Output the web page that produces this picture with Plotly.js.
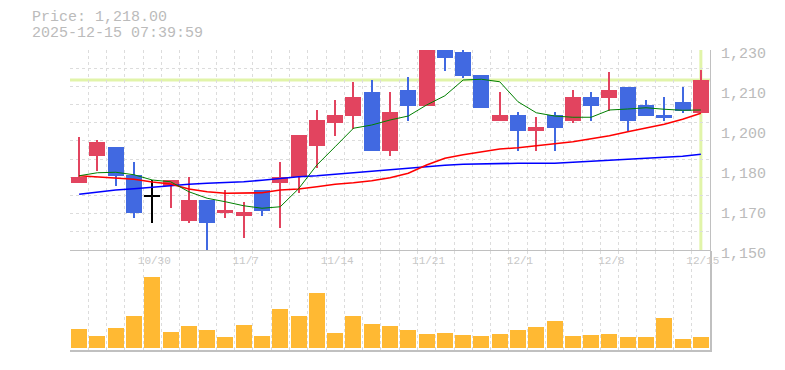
<!DOCTYPE html>
<html>
<head>
<meta charset="utf-8">
<script src="https://cdn.plot.ly/plotly-3.0.1.min.js"></script>
<style>html,body{margin:0;padding:0;background:#fff;}#chart{width:785px;height:370px;}</style>
</head>
<body>
<div id="chart"></div>
<script>
// ---- data ----
const dates = ['10/24','10/27','10/28','10/29','10/30','10/31','11/4','11/5','11/6','11/7',
  '11/10','11/11','11/12','11/13','11/14','11/17','11/18','11/19','11/20','11/21',
  '11/25','11/26','11/27','11/28','12/1','12/2','12/3','12/4','12/5','12/8',
  '12/9','12/10','12/11','12/12','12/15'];
const labelDates = ['10/30','11/7','11/14','11/21','12/1','12/8','12/15'];

const open  = [1176.9,1187.7,1191.2,1180.0,1171.1,1175.7,1161.6,1170.0,1164.8,1163.7,
  1174.0,1176.9,1179.1,1191.6,1200.9,1203.6,1213.2,1189.7,1214.0,1207.7,
  1230.0,1229.2,1220.1,1201.7,1204.0,1197.7,1204.0,1201.7,1211.2,1210.9,
  1215.2,1208.0,1204.0,1209.2,1204.9];
const high  = [1195.3,1194.0,1191.2,1185.2,1178.0,1178.0,1179.3,1170.0,1174.0,1169.2,
  1174.0,1185.2,1196.0,1206.0,1210.0,1217.3,1218.0,1213.2,1219.3,1232.0,
  1232.0,1231.0,1220.1,1213.2,1205.2,1203.2,1205.2,1214.0,1213.2,1221.2,
  1215.2,1210.0,1211.2,1215.2,1222.0];
const low   = [1176.9,1181.7,1175.7,1162.9,1160.9,1166.9,1160.9,1149.0,1162.9,1154.9,
  1163.7,1158.9,1172.9,1182.9,1195.6,1198.3,1189.7,1187.6,1201.7,1207.7,
  1221.7,1218.9,1206.9,1201.7,1189.7,1189.7,1189.7,1200.9,1201.7,1205.7,
  1197.7,1203.7,1201.7,1204.9,1204.9];
const close = [1179.3,1193.2,1179.7,1164.9,1171.1,1178.0,1170.0,1160.9,1166.0,1165.2,
  1165.7,1179.2,1196.0,1202.0,1204.0,1211.2,1189.7,1205.2,1207.7,1231.0,
  1226.9,1219.7,1206.9,1204.0,1197.7,1199.2,1198.9,1211.2,1207.7,1214.0,
  1201.7,1203.7,1202.9,1205.7,1218.0];

const ma5  = [1179.7,1180.9,1181.1,1180.1,1178.0,1177.3,1173.3,1170.7,1169.3,1167.7,
  1166.7,1167.3,1174.5,1184.0,1191.3,1198.7,1200.0,1202.0,1203.6,1208.0,
  1211.7,1218.0,1218.3,1217.3,1209.3,1204.9,1203.6,1203.1,1203.1,1206.0,
  1206.4,1206.9,1206.3,1205.9,1206.0];
const ma25 = [1179.7,1179.3,1178.9,1178.3,1177.2,1176.4,1174.4,1173.3,1172.7,1172.7,
  1172.9,1174.0,1174.4,1175.3,1176.3,1176.9,1177.7,1178.9,1180.7,1184.0,
  1186.7,1188.1,1189.3,1190.4,1190.9,1191.6,1192.3,1193.3,1194.5,1195.7,
  1197.3,1198.7,1200.3,1202.3,1204.7];
const ma75 = [1172.3,1173.3,1174.0,1174.5,1175.2,1175.7,1176.3,1176.7,1176.9,1177.3,
  1177.9,1178.7,1179.3,1179.7,1180.3,1180.9,1181.6,1182.3,1182.9,1183.6,
  1183.9,1184.3,1184.5,1184.7,1184.7,1184.7,1184.7,1185.1,1185.5,1186.0,
  1186.4,1186.7,1187.1,1187.5,1188.3];

// volume (thousand shares)
const volume = [19,12,20,32,71,16,22,18,11,23,12,39,32,55,15,32,24,22,18,14,
  15,13,12,14,18,21,27,12,13,14,11,11,30,9,11];

const priceTickVals = [1150,1166,1182,1198,1214,1230];
const priceTickText = ['1,150','1,170','1,180','1,200','1,210','1,230'];
const priceTime = '2025-12-15 07:39:59';

// ---- styles ----
const UP = '#e2445f', DOWN = '#4169e1', EVEN = '#000000';
const VOL = '#ffb933';
const GRID = '#dcdcdc', AXIS = '#c0c0c0', TXT = '#bbbbbb';
const FONT = 'Liberation Mono, DejaVu Sans Mono, monospace';

const idx = dates.map((d, i) => i);
const colors = close.map((c, i) => c > open[i] ? UP : (c < open[i] ? DOWN : EVEN));
const bodyBase = close.map((c, i) => Math.min(c, open[i]));
const bodyLen = close.map((c, i) => Math.max(Math.abs(c - open[i]), 0.8));
const wickLen = high.map((h, i) => h - low[i]);
const n = dates.length;
const last = n - 1;
const lastClose = close[last];
const labelIdx = labelDates.map(d => dates.indexOf(d));

const traces = [
  {type:'scatter', mode:'lines', x:idx, y:ma75, xaxis:'x2', yaxis:'y',
   line:{color:'#0000ff', width:1.6}, hoverinfo:'skip'},
  {type:'scatter', mode:'lines', x:idx, y:ma25, xaxis:'x2', yaxis:'y',
   line:{color:'#ff0000', width:1.6}, hoverinfo:'skip'},
  {type:'scatter', mode:'lines', x:idx, y:ma5, xaxis:'x2', yaxis:'y',
   line:{color:'#008000', width:1}, hoverinfo:'skip'},
  {type:'bar', x:idx, y:wickLen, base:low, width:0.11, xaxis:'x2', yaxis:'y',
   marker:{color:colors, line:{width:0}}, hoverinfo:'skip'},
  {type:'bar', x:idx, y:bodyLen, base:bodyBase, width:0.875, xaxis:'x2', yaxis:'y',
   marker:{color:colors, line:{width:0}}, hoverinfo:'skip'},
  {type:'bar', x:idx, y:volume, width:0.875, xaxis:'x', yaxis:'y2',
   marker:{color:VOL, line:{width:0}}, hoverinfo:'skip'}
];

const minorX = {tick0:-0.5, dtick:1, showgrid:true, gridcolor:GRID, gridwidth:1, griddash:'dot', ticks:''};

const layout = {
  width:785, height:370,
  margin:{l:70, r:75, t:50, b:20, pad:0},
  paper_bgcolor:'#ffffff', plot_bgcolor:'#ffffff',
  showlegend:false, barmode:'overlay', bargap:0,
  font:{family:FONT, size:15, color:TXT},
  xaxis:{domain:[0,1], anchor:'y2', range:[-0.5, n-0.5], showticklabels:false, ticks:'',
    showgrid:false, zeroline:false, showline:true, linecolor:AXIS, linewidth:2,
    minor:minorX, fixedrange:true},
  xaxis2:{domain:[0,1], anchor:'y', matches:'x', range:[-0.5, n-0.5],
    tickmode:'array', tickvals:labelIdx, ticktext:labelDates, ticks:'',
    tickfont:{family:FONT, size:11, color:'#c8c8c8'}, ticklabelshift:2,
    showgrid:false, zeroline:false, showline:true, linecolor:AXIS, linewidth:1,
    minor:minorX, fixedrange:true},
  yaxis:{domain:[0.3333,1], anchor:'x2', side:'right', range:[1150,1230],
    tickmode:'array', tickvals:priceTickVals, ticktext:priceTickText, ticks:'',
    tickfont:{family:FONT, size:15, color:TXT}, ticklabelstandoff:7, ticklabelshift:3,
    showgrid:false, zeroline:false, showline:true, linecolor:AXIS, linewidth:1,
    minor:{tick0:1150, dtick:80/11, showgrid:true, gridcolor:GRID, gridwidth:1, griddash:'dot', ticks:''},
    fixedrange:true},
  yaxis2:{domain:[0,0.33], anchor:'x', side:'right', range:[-2,97],
    showticklabels:false, ticks:'', showgrid:false, zeroline:false,
    showline:true, linecolor:AXIS, linewidth:2, fixedrange:true},
  shapes:[
    {type:'line', layer:'below', xref:'paper', x0:0, x1:1, yref:'y', y0:lastClose, y1:lastClose,
     line:{color:'#e1f4a9', width:3}},
    {type:'line', layer:'below', xref:'x2', x0:last, x1:last, yref:'y domain', y0:0, y1:1,
     line:{color:'#e1f4a9', width:3}}
  ],
  annotations:[
    {xref:'paper', yref:'paper', x:-40/640, y:(350-17.5)/300, xanchor:'left', yanchor:'middle',
     showarrow:false, text:'Price: ' + lastClose.toLocaleString('en-US',{minimumFractionDigits:2, maximumFractionDigits:2}),
     font:{family:FONT, size:15, color:TXT}},
    {xref:'paper', yref:'paper', x:-40/640, y:(350-33)/300, xanchor:'left', yanchor:'middle',
     showarrow:false, text:priceTime, font:{family:FONT, size:15, color:TXT}}
  ]
};

Plotly.newPlot('chart', traces, layout, {staticPlot:true, displayModeBar:false});
</script>
</body>
</html>
